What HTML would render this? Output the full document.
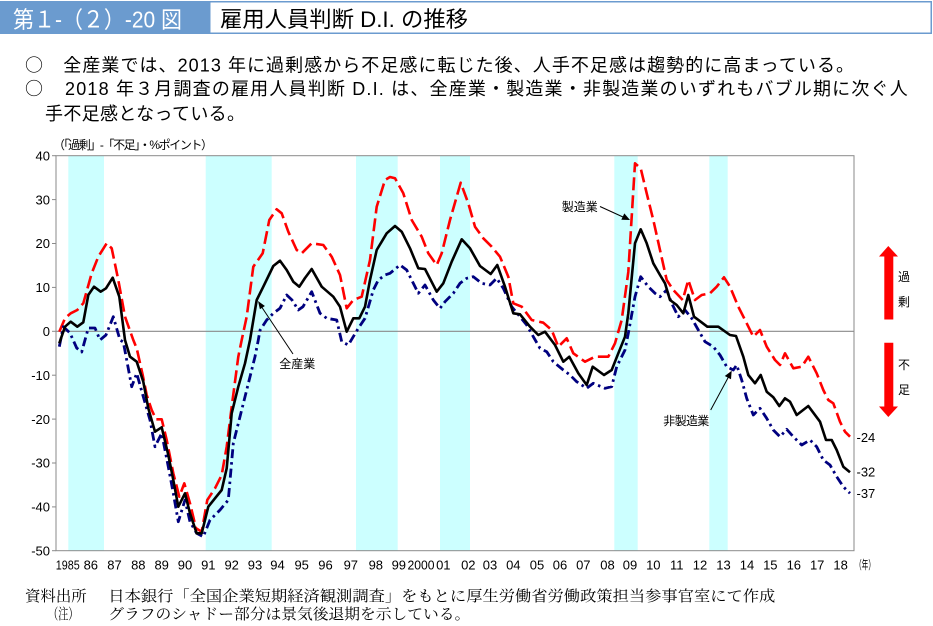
<!DOCTYPE html>
<html lang="ja">
<head>
<meta charset="utf-8">
<style>
  html,body{margin:0;padding:0;background:#fff;}
  svg{display:block;}
  .s{font-family:"Liberation Sans","Noto Sans CJK JP",sans-serif;}
  .c{font-family:"Noto Sans CJK JP","Liberation Sans",sans-serif;}
  .m{font-family:"Noto Serif CJK SC","Liberation Serif",serif;}
</style>
</head>
<body>
<svg width="933" height="626" viewBox="0 0 933 626" xmlns="http://www.w3.org/2000/svg">
  <rect x="0" y="0" width="933" height="626" fill="#fff"/>

  <!-- Header -->
  <rect x="0" y="1" width="209" height="33" fill="#6b9bcf"/>
  <rect x="209.75" y="1.75" width="721.5" height="31.5" fill="#fff" stroke="#6b9bcf" stroke-width="1.5"/>
  <text class="s" x="13" y="27.5" font-size="23" fill="#fff" textLength="169" lengthAdjust="spacingAndGlyphs">第１-（２）-20 図</text>
  <text class="s" x="220" y="27" font-size="22" fill="#000" textLength="248" lengthAdjust="spacingAndGlyphs">雇用人員判断 D.I. の推移</text>

  <!-- Summary lines -->
  <g class="s" font-size="18" fill="#000">
    <text class="c" x="25" y="71.5" font-size="18">○</text>
    <text x="63.3" y="71.5" textLength="790.7">全産業では、2013 年に過剰感から不足感に転じた後、人手不足感は趨勢的に高まっている。</text>
    <text class="c" x="25" y="95" font-size="18">○</text>
    <text x="65" y="95" textLength="842.7">2018 年３月調査の雇用人員判断 D.I. は、全産業・製造業・非製造業のいずれもバブル期に次ぐ人</text>
    <text x="45" y="120" textLength="200">手不足感となっている。</text>
  </g>

  <!-- Axis caption -->
  <text class="s" x="53" y="149" font-size="12" fill="#000" textLength="160">（「過剰」-「不足」・%ポイント）</text>

  <!-- Shaded recession bands -->
  <g fill="#ccffff">
    <rect x="68.3" y="156" width="35.7" height="394.5"/>
    <rect x="205.7" y="156" width="66" height="394.5"/>
    <rect x="356" y="156" width="41.7" height="394.5"/>
    <rect x="440" y="156" width="30" height="394.5"/>
    <rect x="614.3" y="156" width="23.4" height="394.5"/>
    <rect x="709.3" y="156" width="18.4" height="394.5"/>
  </g>

  <!-- Frame & zero line -->
  <rect x="56" y="155.7" width="798" height="395" fill="none" stroke="#8a8a8a" stroke-width="1"/>
  <line x1="56" y1="331.3" x2="854" y2="331.3" stroke="#8a8a8a" stroke-width="1.2"/>

  <!-- Y ticks -->
  <g stroke="#8a8a8a" stroke-width="1">
    <line x1="52" y1="155.7" x2="56" y2="155.7"/>
    <line x1="52" y1="199.6" x2="56" y2="199.6"/>
    <line x1="52" y1="243.5" x2="56" y2="243.5"/>
    <line x1="52" y1="287.4" x2="56" y2="287.4"/>
    <line x1="52" y1="331.3" x2="56" y2="331.3"/>
    <line x1="52" y1="375.2" x2="56" y2="375.2"/>
    <line x1="52" y1="419.1" x2="56" y2="419.1"/>
    <line x1="52" y1="463" x2="56" y2="463"/>
    <line x1="52" y1="506.9" x2="56" y2="506.9"/>
    <line x1="52" y1="550.7" x2="56" y2="550.7"/>
  </g>
  <g class="s" font-size="13" fill="#000" text-anchor="end">
    <text x="50" y="160.4">40</text>
    <text x="50" y="204.3">30</text>
    <text x="50" y="248.2">20</text>
    <text x="50" y="292.1">10</text>
    <text x="50" y="336">0</text>
    <text x="50" y="379.9">-10</text>
    <text x="50" y="423.8">-20</text>
    <text x="50" y="467.7">-30</text>
    <text x="50" y="511.6">-40</text>
    <text x="50" y="555.4">-50</text>
  </g>

  <!-- X labels -->
  <g class="s" font-size="13" fill="#000" text-anchor="middle">
    <text x="67.8" y="569.5" textLength="24" lengthAdjust="spacingAndGlyphs">1985</text>
    <text x="90.8" y="569.5">86</text>
    <text x="114.5" y="569.5">87</text>
    <text x="138.3" y="569.5">88</text>
    <text x="161.7" y="569.5">89</text>
    <text x="185" y="569.5">90</text>
    <text x="208.3" y="569.5">91</text>
    <text x="231.7" y="569.5">92</text>
    <text x="255" y="569.5">93</text>
    <text x="277.5" y="569.5">94</text>
    <text x="301.7" y="569.5">95</text>
    <text x="325.5" y="569.5">96</text>
    <text x="350.8" y="569.5">97</text>
    <text x="375.8" y="569.5">98</text>
    <text x="398.8" y="569.5">99</text>
    <text x="421" y="569.5" textLength="27" lengthAdjust="spacingAndGlyphs">2000</text>
    <text x="443.3" y="569.5">01</text>
    <text x="468.3" y="569.5">02</text>
    <text x="490" y="569.5">03</text>
    <text x="513.3" y="569.5">04</text>
    <text x="537" y="569.5">05</text>
    <text x="560" y="569.5">06</text>
    <text x="583.3" y="569.5">07</text>
    <text x="607.5" y="569.5">08</text>
    <text x="630" y="569.5">09</text>
    <text x="653.3" y="569.5">10</text>
    <text x="676.7" y="569.5">11</text>
    <text x="700" y="569.5">12</text>
    <text x="723.5" y="569.5">13</text>
    <text x="747" y="569.5">14</text>
    <text x="770.3" y="569.5">15</text>
    <text x="793.8" y="569.5">16</text>
    <text x="817.2" y="569.5">17</text>
    <text x="840.6" y="569.5">18</text>
  </g>
  <text class="s" x="855" y="569" font-size="12" fill="#000" textLength="20" lengthAdjust="spacingAndGlyphs">（年）</text>

  <!-- Manufacturing (red dashed) -->
  <polyline fill="none" stroke="#ff0000" stroke-width="2.6" stroke-dasharray="13 5" stroke-linejoin="round"
    points="59.3,331.7 65,318.3 70.7,313.3 77.3,310 83.3,303.3 91.7,273.3 98.3,256.7 106.7,243.3 111.7,248.3 118.3,280 125,316.7 133.3,340 136.7,348.3 142.7,375 146.7,395 151.7,410 156,419.3 161.7,419.3 166.7,440 173.3,473.3 179.3,496.7 184.3,483.3 190,503.3 196,528.3 201.7,531.7 207.3,500 215,488.3 221.7,475 226.7,446.7 231.7,406.7 238.3,356.7 241.7,340 246.7,316.7 253.3,266.7 262.7,253.3 269.3,220 276.7,209.3 281.7,213.3 288.3,231.7 296.7,250 301.7,253.3 311.7,243.3 323.3,245 331.7,256.7 340,275 346.7,308.3 353.3,300 361.7,296.7 370,260 376.7,206.7 385,180 390,177 395,178.3 403.3,193.3 411.7,220 421.7,236.7 428.3,253.3 436.7,265 441.7,253.3 450,220 460.7,182.7 468.3,203.3 475,226.7 483.3,238.3 491.7,246.7 500,256.7 508.3,276.7 513.3,303.3 521.7,306.7 531.7,320 543.3,322.7 551.7,330 558.3,346.7 566.7,338.3 573.3,353.3 585,361.7 595,356.7 608.3,356.7 615,343.3 621.7,320 628.3,272 635,163.3 640.7,168.3 646.7,193.3 653.3,220 660,250 666.7,280 673.3,290 682.7,300 688.3,280 695,300 701.7,295 710,293.3 716.7,286.7 724,277.3 730,286.7 738.3,306.7 746.7,323.3 753.3,336.7 760,330 766.7,346.7 775,360 780,365 785,353.3 793.3,368.3 801.7,366.7 808.3,356.7 816.7,373.3 823.3,390 828.3,400 833.3,403.3 840,421.7 845,431.7 850,436.7"/>

  <!-- Non-manufacturing (navy dash-dot) -->
  <polyline fill="none" stroke="#00007f" stroke-width="2.8" stroke-dasharray="9 4 2.5 4" stroke-linejoin="round"
    points="59.3,346.7 63.3,326.7 70,333 76.7,348 81.7,352 88.3,328 95,328 100,340 106,335 113.3,316.7 120,340 123.3,342 126.7,360 131.7,386.7 136.7,373.3 143.3,396.7 150,420 155,446.7 161.7,433.3 168.3,466.7 173.3,493.3 178.3,521.7 185,500 190,521.7 196.7,533.3 203.3,536.7 210,520 220,510 228.3,500 233.3,443.3 240,416.7 246.7,390 255,356.7 258.3,340 260,330.3 266.7,320 273.3,313.3 280,308.3 286.7,295 292,300 298.3,310 303,306.7 311.7,291.7 320,313.3 326.7,318.3 336.7,320 341.7,341.7 348.3,345 358.3,328.3 365,318.3 373.3,290 378.3,280 385,275 390,273.3 400,265 406.7,270 413.3,283.3 418.3,293.3 425,285 433.3,300 440,308.3 445,301.7 453.3,293.3 460,283.3 466.7,278.3 473.3,276.7 481.7,283.3 490,285 496.7,278.3 503.3,288.3 511.7,306.7 520,316.7 526.7,325 533.3,336.7 540,348.3 546.7,351.7 553.3,361.7 563.3,370 570,375 576.7,381.7 586.7,388.3 593.3,383.3 605,388.3 611.7,386.7 616.7,366.7 625,350 628.3,333.3 635,296.7 640.7,276.7 648.3,286.7 655,293.3 660,296.7 666.7,290 671.7,303.3 678.3,316.7 685,310 691.7,318.3 698.3,330 705,341.7 713.3,346.7 720,355 726.7,366.7 733.3,370 736.7,365 741.7,380 746.7,398.3 753.3,415 760,408.3 766.7,418.3 773.3,430 780,436.7 786.7,429.3 793.3,436.7 801.7,445 810,440 816.7,446.7 823.3,460 830,465 836.7,476.7 843.3,486.7 850,493.3"/>

  <!-- All industries (black solid) -->
  <polyline fill="none" stroke="#000" stroke-width="2.6" stroke-linejoin="round"
    points="59.3,343.3 65,326.7 70.7,321.7 77.3,326.7 83.3,322.3 88.3,295 94,286.7 100.7,291.7 106,288.3 112.7,277.7 119.3,296.7 125,340 130,356.7 136.7,361.7 143.3,381.7 148.3,408.3 155,431.7 161.7,427.3 168.3,455 173.3,480 178.3,506.7 185,493.3 190,513.3 196.7,533.3 201.7,533.3 208.3,506.7 215,498.3 221.7,490 226.7,468.3 231.7,413.3 238.3,386.7 245,363.3 250,340 256.7,300 263.3,286.7 273.3,266 280,260.7 286.7,270 293.3,281.7 299.3,286.7 305,278 311.7,269 321.7,286.7 333.3,296.7 340,306.7 346.7,331.7 353.3,318.3 359.3,318.3 365,306.7 370,280 376.7,250 386.7,233.3 395,226 401.7,231.7 410,248.3 418.3,268.3 425,269 436.7,291.7 443.3,283.3 451.7,261.7 461.7,239.3 470,248.3 480,266 490.7,274 497.3,265 505,286.7 513.3,313.3 520,314.3 530,326.7 538.3,335 545,331.7 555,345 563.3,361.7 569.3,356.7 578.3,373.3 586.7,385 592.7,366.7 604,375 611.7,370 618.3,353.3 625,336.7 628.3,313.3 635,243.3 640.7,229.3 646.7,243.3 653.3,263.3 660,275 665,283.3 670,300 676.7,305 683.3,313.3 688.3,295 694,316.7 700.7,321.7 707.3,326.7 718.3,326.7 730,335 736,336 743.3,356.7 748.3,375 755,383.3 760.7,375 766.7,391.7 773.3,397.3 779.3,406 785,398.3 790,401.7 796.7,415 808.3,406 820,421.7 826,440 831.7,440 836.7,450 843.3,466.7 850,472.3"/>

  <!-- Annotations -->
  <g class="s" font-size="12" fill="#000">
    <text x="561.7" y="211">製造業</text>
    <text x="279.3" y="368">全産業</text>
    <text x="663.3" y="425" textLength="46">非製造業</text>
  </g>
  <g stroke="#000" stroke-width="1">
    <line x1="600" y1="206.5" x2="623" y2="217"/>
    <line x1="293" y1="354" x2="261" y2="306"/>
    <line x1="710.7" y1="410" x2="729" y2="376"/>
  </g>
  <g fill="#000">
    <polygon points="630,220 621.3,219.8 624.3,213.4"/>
    <polygon points="258,301 264.9,306 259.9,309.3"/>
    <polygon points="731.7,370.7 731,379.3 724.8,376"/>
  </g>

  <!-- Right side arrows -->
  <polygon fill="#ff0000" points="888.3,246 898,256.5 893.3,256.5 893.3,319.5 884.3,319.5 884.3,256.5 879,256.5"/>
  <polygon fill="#ff0000" points="884.3,342.7 893.3,342.7 893.3,406.5 898,406.5 888.3,417 879,406.5 884.3,406.5"/>
  <g class="s" font-size="12" fill="#000">
    <text x="898" y="281">過</text>
    <text x="898" y="306">剰</text>
    <text x="898" y="369">不</text>
    <text x="898" y="394">足</text>
  </g>

  <!-- End value labels -->
  <g class="s" font-size="13" fill="#000">
    <text x="856.5" y="442">-24</text>
    <text x="856.5" y="476.5">-32</text>
    <text x="856.5" y="498">-37</text>
  </g>

  <!-- Footer -->
  <g class="m" font-size="15" fill="#000">
    <text x="25" y="601" textLength="61.7" lengthAdjust="spacingAndGlyphs">資料出所</text>
    <text x="108.3" y="601" textLength="667" lengthAdjust="spacingAndGlyphs">日本銀行「全国企業短期経済観測調査」をもとに厚生労働省労働政策担当参事官室にて作成</text>
    <text x="48.3" y="619" textLength="30" lengthAdjust="spacingAndGlyphs">（注）</text>
    <text x="108.3" y="619" textLength="362" lengthAdjust="spacingAndGlyphs">グラフのシャドー部分は景気後退期を示している。</text>
  </g>
</svg>
</body>
</html>
